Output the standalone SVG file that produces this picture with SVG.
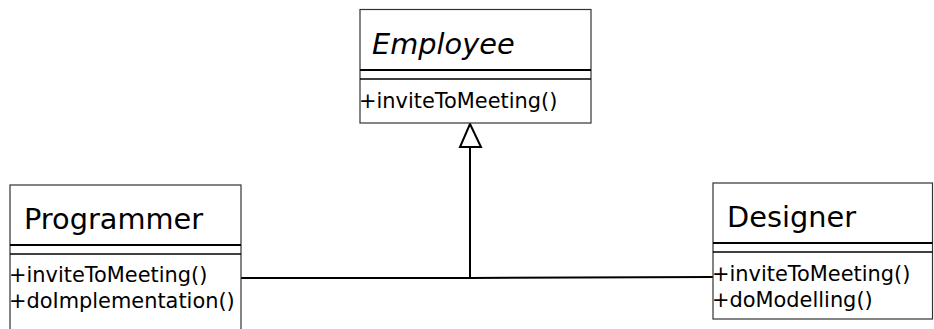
<svg xmlns="http://www.w3.org/2000/svg" width="934" height="329" viewBox="0 0 934 329">
<style>
.box{fill:#fff;stroke:#333;stroke-width:1.2}
.sep1{stroke:#000;stroke-width:2}
.sep2{stroke:#000;stroke-width:1.3}
.title{font-family:"DejaVu Sans",sans-serif;font-size:28.8px;fill:#000}
.it{font-style:italic}
.op{font-family:"DejaVu Sans",sans-serif;font-size:20.9px;fill:#000}
.conn{fill:none;stroke:#000;stroke-width:2}
</style>
<rect width="934" height="329" fill="#fff"/>
<g id="connectors">
<polyline class="conn" points="241,278 470,278 713,277"/>
<line class="conn" x1="470" y1="278" x2="470" y2="147"/>
<polygon class="conn" fill="#fff" points="470,124 481,147 460,147"/>
</g>
<g id="employee">
<rect class="box" x="360" y="9.5" width="231" height="113.5"/>
<line class="sep1" x1="360" y1="70" x2="591" y2="70"/>
<line class="sep2" x1="360" y1="79" x2="591" y2="79"/>
<text class="title it" x="372" y="54">Employee</text>
<text class="op" x="359" y="108">+inviteToMeeting()</text>
</g>
<g id="programmer">
<rect class="box" x="10" y="185" width="231" height="160"/>
<line class="sep1" x1="10" y1="245" x2="241" y2="245"/>
<line class="sep2" x1="10" y1="254" x2="241" y2="254"/>
<text class="title" x="24" y="229">Programmer</text>
<text class="op" x="9" y="282">+inviteToMeeting()</text>
<text class="op" x="9" y="308">+doImplementation()</text>
</g>
<g id="designer">
<rect class="box" x="713" y="183" width="219.5" height="136"/>
<line class="sep1" x1="713" y1="243" x2="932.5" y2="243"/>
<line class="sep2" x1="713" y1="252" x2="932.5" y2="252"/>
<text class="title" x="727" y="227">Designer</text>
<text class="op" x="712" y="281">+inviteToMeeting()</text>
<text class="op" x="712" y="307">+doModelling()</text>
</g>
</svg>
